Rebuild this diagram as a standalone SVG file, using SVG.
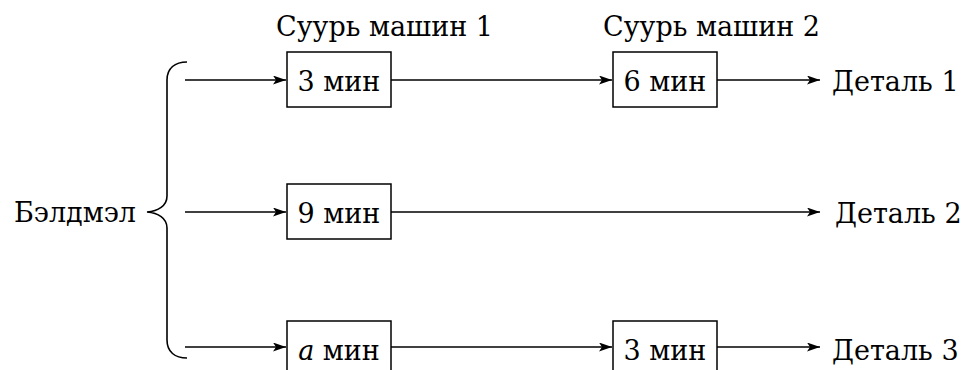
<svg xmlns="http://www.w3.org/2000/svg" width="964" height="370" viewBox="0 0 964 370">
<style>
text{font-family:"DejaVu Serif","Liberation Serif",serif;font-size:27px;fill:#000}
.box{fill:#fff;stroke:#000;stroke-width:1.5}
.c{fill:none;stroke:#000;stroke-width:1.6}
</style>
<defs>
<marker id="ah" viewBox="0 0 13 9" refX="13" refY="4.5" markerWidth="13" markerHeight="9" markerUnits="userSpaceOnUse" orient="auto">
<path d="M0,0 L13,4.5 L0,9 L3,4.5 Z" fill="#000"/>
</marker>
</defs>
<rect width="964" height="370" fill="#fff"/>
<g id="connectors">
<path class="c" d="M185,80 H286" marker-end="url(#ah)"/>
<path class="c" d="M391,80 H612" marker-end="url(#ah)"/>
<path class="c" d="M717,80 H820" marker-end="url(#ah)"/>
<path class="c" d="M185,212 H286" marker-end="url(#ah)"/>
<path class="c" d="M391,212 H820" marker-end="url(#ah)"/>
<path class="c" d="M185,347 H286" marker-end="url(#ah)"/>
<path class="c" d="M391,347 H612" marker-end="url(#ah)"/>
<path class="c" d="M717,347 H820" marker-end="url(#ah)"/>
</g>
<g id="brace">
<path class="c" d="M187,62 C175,62 167,68 167,80 V196 C167,206 158,211 147,212 C158,213 167,218 167,228 V340 C167,352 175,358 187,358"/>
</g>
<g id="source"><text x="14" y="222">Бэлдмэл</text></g>
<g id="header1"><text x="276" y="36">Суурь машин 1</text></g>
<g id="header2"><text x="603" y="36">Суурь машин 2</text></g>
<g id="m1a"><rect class="box" x="287" y="52" width="104" height="55"/><text x="339" y="91" text-anchor="middle">3 мин</text></g>
<g id="m2a"><rect class="box" x="613" y="52" width="104" height="55"/><text x="665" y="91" text-anchor="middle">6 мин</text></g>
<g id="m1b"><rect class="box" x="287" y="184" width="104" height="55"/><text x="339" y="223" text-anchor="middle">9 мин</text></g>
<g id="m1c"><rect class="box" x="287" y="321" width="104" height="55"/><text x="339" y="360" text-anchor="middle"><tspan font-style="italic">a</tspan> мин</text></g>
<g id="m2c"><rect class="box" x="613" y="321" width="104" height="55"/><text x="665" y="360" text-anchor="middle">3 мин</text></g>
<g id="d1"><text x="832" y="91">Деталь 1</text></g>
<g id="d2"><text x="835" y="223">Деталь 2</text></g>
<g id="d3"><text x="832" y="360">Деталь 3</text></g>
</svg>
